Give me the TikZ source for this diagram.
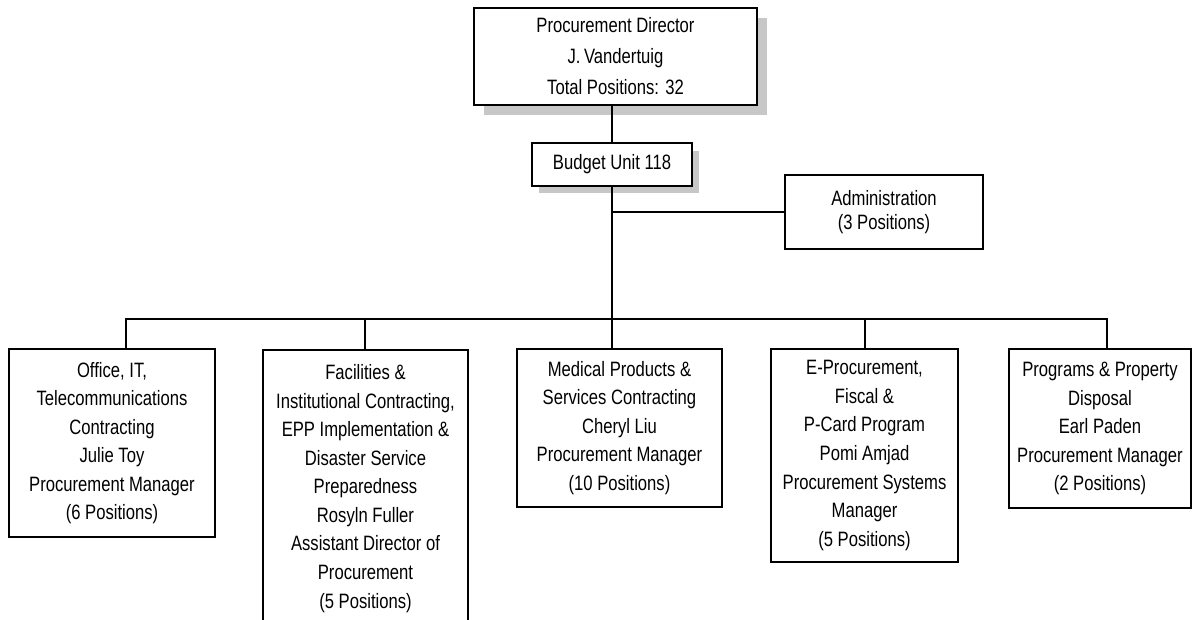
\documentclass[tikz,border=0pt]{standalone}
\usepackage{fontspec}
\setmainfont{Liberation Sans}[FakeStretch=0.8]
\usetikzlibrary{positioning, shadows}

\begin{document}
\begin{tikzpicture}[
    x=0.75pt, y=-0.75pt,
    line width=1.2pt,
    font=\fontsize{15.6}{21.4}\selectfont,
    caixa/.style={draw, line width=1.5pt, fill=white, rectangle, align=center, inner sep=4pt},
    sombra/.style={drop shadow={shadow xshift=#1, shadow yshift=-#1, fill=black!22, opacity=1}},
    linha/.style={line width=1.2pt}
]
    \useasboundingbox (0,0) rectangle (1193,620);

    \node[caixa, sombra=7.5pt, minimum width=212pt, minimum height=73pt,
          font=\fontsize{15.6}{23.25}\selectfont] (diretor) at (615.5,56.5)
          {Procurement Director\\J.\,Vandertuig\\Total Positions: 32};
    \node[caixa, sombra=5.6pt, minimum width=120pt, minimum height=32pt] (unidade) at (612,164.5) {Budget Unit 118};
    \node[caixa, minimum width=148.5pt, minimum height=55.5pt,
          font=\fontsize{15.6}{17.5}\selectfont] (admin) at (884,212) {Administration\\(3 Positions)};

    % divisoes
    \node[caixa, minimum width=154.5pt, minimum height=141pt] (escritorio) at (112,443)
          {Office, IT,\\Telecommunications\\Contracting\\Julie Toy\\Procurement Manager\\(6 Positions)};
    \node[caixa, anchor=north, minimum width=153.75pt, inner ysep=11pt] (instalacoes) at (365.5,349)
          {Facilities \&\\Institutional Contracting,\\EPP Implementation \&\\Disaster Service\\Preparedness\\Rosyln Fuller\\Assistant Director of\\Procurement\\(5 Positions)};
    \node[caixa, minimum width=153.75pt, minimum height=118.5pt] (medico) at (619.5,428)
          {Medical Products \&\\Services Contracting\\Cheryl Liu\\Procurement Manager\\(10 Positions)};
    \node[caixa, minimum width=140.25pt, minimum height=159.75pt] (eproc) at (864.5,455.5)
          {E-Procurement,\\Fiscal \&\\P-Card Program\\Pomi Amjad\\Procurement Systems\\Manager\\(5 Positions)};
    \node[caixa, minimum width=136.5pt, minimum height=119.25pt] (programas) at (1100,428.5)
          {Programs \& Property\\Disposal\\Earl Paden\\Procurement Manager\\(2 Positions)};

    \coordinate (d1) at (126,319);
    \coordinate (d2) at (365,319);
    \coordinate (d3) at (612,319);
    \coordinate (d4) at (865,319);
    \coordinate (d5) at (1107,319);

    \draw[linha] (diretor.south -| unidade.north) -- (unidade.north);
    \draw[linha] (unidade.south) -- (d3);
    \draw[linha] (admin.west) -- (admin.west -| unidade.south);
    \draw[linha] (d1 |- escritorio.north) -- (d1) -- (d5) -- (d5 |- programas.north);
    \foreach \ponto/\alvo in {d2/instalacoes, d3/medico, d4/eproc}
        \draw[linha] (\ponto) -- (\ponto |- \alvo.north);
\end{tikzpicture}
\end{document}
